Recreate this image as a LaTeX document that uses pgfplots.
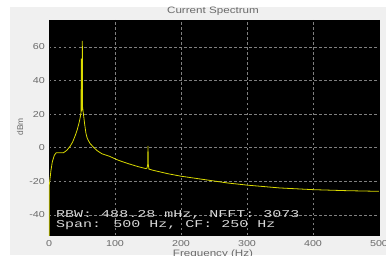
\documentclass[border=0pt]{standalone}
\usepackage{fontspec}
\setmainfont{Liberation Sans}
\newfontfamily\monof{Liberation Mono}
\usepackage{pgfplots}
\pgfplotsset{compat=1.18}
\usepackage{pgfplotstable}
\definecolor{bg}{HTML}{F0F0F0}
\definecolor{txt}{HTML}{6A6A6A}
\definecolor{curve}{HTML}{DADA00}
\definecolor{gridc}{HTML}{808080}
\definecolor{mono}{HTML}{D8D8D8}
\newcommand{\hs}[1]{\scalebox{1.25}[1]{#1}}
\pgfplotstableread{
f db
0 -70
0.5 -22
3 -13.5
5 -8.5
8 -4.6
11 -3
16 -3
22 -3
27 -1.6
32 0.8
36 3.5
40 7.5
43 11
46 15.5
47.5 18.5
48.5 21
49 53
49.3 22
50 22.5
50.5 63.5
50.9 24
51.5 22
52.5 19
54 14
56 8.5
58 5.5
62 2.6
67 0.4
73 -1.8
80 -3.6
92 -5.2
105 -7.5
120 -9.5
135 -11.3
147 -12.5
148.5 -12.2
149.5 -10
150 1
150.5 -10
151.5 -12.8
158 -13.5
180 -15.5
200 -17
244 -19.5
270 -21
300 -22.3
350 -24
400 -25
450 -25.6
500 -26
}\spectrum
\begin{document}
\begin{tikzpicture}[x=1pt,y=1pt]
\clip (0,0) rectangle (386,255);
\fill[white] (0,0) rectangle (386,255);
\fill[bg] (10,0) rectangle (386,248);
\begin{axis}[
  at={(49pt,20pt)}, anchor=south west, scale only axis,
  width=330pt, height=215pt,
  xmin=0, xmax=500, ymin=-52, ymax=76,
  axis background/.style={fill=black},
  axis line style={black},
  xtick={0,100,...,500}, ytick={-40,-20,...,60},
  grid=major,
  major grid style={gridc, line width=0.5pt, dash pattern=on 2.5pt off 2.5pt},
  tick style={draw=none},
  /pgf/number format/assume math mode=true,
  ticklabel style={font=\fontsize{8.6}{10}\selectfont, text=txt, inner sep=0pt},
  xticklabel={\hs{\pgfmathprintnumber{\tick}}},
  yticklabel={\hs{\pgfmathprintnumber{\tick}}},
  xticklabel style={anchor=north, yshift=-5pt},
  yticklabel style={anchor=east, xshift=-4pt},
]
\addplot[curve, line width=0.8pt] table[x=f, y=db] {\spectrum};
\node[anchor=base west, inner sep=0pt, text=mono, font=\monof\fontsize{10.5}{12}\selectfont] at (axis description cs:0.0212,0.0823) {\scalebox{1.43}[1]{RBW: 488.28 mHz, NFFT: 3073}};
\node[anchor=base west, inner sep=0pt, text=mono, font=\monof\fontsize{10.5}{12}\selectfont] at (axis description cs:0.0212,0.034) {\scalebox{1.43}[1]{Span: 500 Hz, CF: 250 Hz}};
\end{axis}
\node[anchor=base, inner sep=0pt, text=txt, font=\fontsize{9.3}{11}\selectfont] at (213,241) {\hs{Current Spectrum}};
\node[anchor=north, inner sep=0pt, text=txt, font=\fontsize{9.3}{11}\selectfont] at (213,5.5) {\hs{Frequency (Hz)}};
\node[rotate=90, anchor=center, inner sep=0pt, text=txt, font=\fontsize{8.4}{10}\selectfont] at (20,128) {dBm};
\end{tikzpicture}
\end{document}
